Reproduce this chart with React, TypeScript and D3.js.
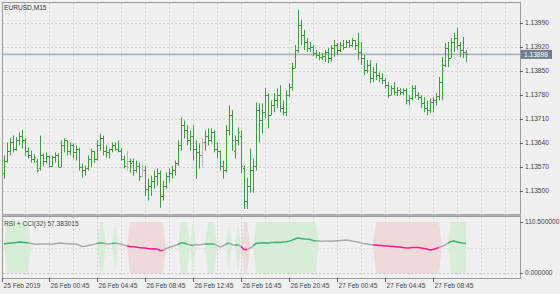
import React from "react";
import * as d3 from "d3";

const symbolTitle = "EURUSD,M15";
const subTitle = "RSI + CCI(32) 57.383015";
const currentPrice = 1.13898;

const highs = [
  1.13603, 1.13641, 1.13653, 1.13661, 1.13656, 1.1367, 1.13676, 1.13653, 1.13626, 1.13617,
  1.13606, 1.13594, 1.13661, 1.13609, 1.13612, 1.13603, 1.13603, 1.13612, 1.13609, 1.13647,
  1.13653, 1.13647, 1.13641, 1.13638, 1.13632, 1.13626, 1.13579, 1.13573, 1.13603, 1.13623,
  1.13617, 1.13647, 1.13667, 1.13661, 1.13632, 1.13623, 1.13641, 1.13641, 1.13647, 1.13623,
  1.13603, 1.13617, 1.13594, 1.13594, 1.13588, 1.13582, 1.13579, 1.13573, 1.13535, 1.13544,
  1.13559, 1.13565, 1.13559, 1.13529, 1.13553, 1.13565, 1.13573, 1.13588, 1.13647, 1.13714,
  1.13705, 1.13691, 1.13676, 1.13691, 1.13647, 1.13638, 1.13653, 1.13676, 1.13682, 1.13682,
  1.13676, 1.13641, 1.13617, 1.13588, 1.13691, 1.13749, 1.13735, 1.13661, 1.13685, 1.13676,
  1.13573, 1.13538, 1.13623, 1.13594, 1.13758, 1.13755, 1.13755, 1.13799, 1.13785, 1.13764,
  1.13785, 1.13799, 1.13808, 1.13764, 1.13793, 1.13814, 1.13873, 1.13925, 1.14028, 1.13999,
  1.1397, 1.13946, 1.13934, 1.13925, 1.13911, 1.13905, 1.13902, 1.13911, 1.13917, 1.13925,
  1.1394, 1.13931, 1.13934, 1.1394, 1.1394, 1.1394, 1.13946, 1.1394, 1.13961, 1.13934,
  1.13896, 1.13881, 1.13881, 1.13861, 1.13873, 1.13846, 1.13843, 1.13829, 1.13817, 1.13808,
  1.13817, 1.13802, 1.13799, 1.13799, 1.13799, 1.13779, 1.13808, 1.13808, 1.13788, 1.13779,
  1.13773, 1.13764, 1.1377, 1.13773, 1.13785, 1.13832, 1.1389, 1.13931, 1.13934, 1.13946,
  1.13961, 1.13975, 1.13934, 1.13949, 1.13911,
];

const lows = [
  1.13535, 1.13582, 1.13603, 1.13612, 1.13617, 1.13632, 1.13623, 1.13603, 1.13594, 1.13582,
  1.13582, 1.13553, 1.13559, 1.13573, 1.13579, 1.13568, 1.1357, 1.13582, 1.13568, 1.13568,
  1.13612, 1.13603, 1.13603, 1.13594, 1.13588, 1.13559, 1.13538, 1.13544, 1.13559, 1.1357,
  1.13582, 1.13588, 1.13617, 1.13603, 1.13597, 1.13594, 1.13612, 1.13617, 1.13612, 1.13588,
  1.13565, 1.13559, 1.13553, 1.13544, 1.13553, 1.13529, 1.13538, 1.13485, 1.13471, 1.13485,
  1.13506, 1.13515, 1.1345, 1.13471, 1.13506, 1.13524, 1.13535, 1.13544, 1.13573, 1.13617,
  1.13653, 1.13632, 1.13617, 1.13588, 1.13535, 1.13565, 1.13568, 1.13617, 1.13632, 1.13641,
  1.13612, 1.13594, 1.13559, 1.13535, 1.13553, 1.13661, 1.13617, 1.13594, 1.13632, 1.1355,
  1.13447, 1.13447, 1.13494, 1.13494, 1.13559, 1.13641, 1.13667, 1.13711, 1.13682, 1.1372,
  1.13729, 1.13741, 1.13729, 1.1372, 1.13717, 1.13773, 1.13793, 1.13858, 1.13902, 1.13925,
  1.13911, 1.13905, 1.13905, 1.13893, 1.13887, 1.13881, 1.13881, 1.13876, 1.13873, 1.13876,
  1.1389, 1.13896, 1.13905, 1.13911, 1.13917, 1.13917, 1.1392, 1.13911, 1.13881, 1.13867,
  1.13837, 1.13843, 1.13814, 1.13817, 1.13823, 1.13817, 1.13811, 1.13799, 1.1377, 1.13779,
  1.13779, 1.13776, 1.13779, 1.13779, 1.13752, 1.13749, 1.13764, 1.1377, 1.13764, 1.13741,
  1.13729, 1.1372, 1.13726, 1.13729, 1.13749, 1.13764, 1.13764, 1.13861, 1.13861, 1.13887,
  1.13905, 1.13911, 1.1389, 1.13887, 1.13876,
];

const opens = [
  1.13553, 1.13588, 1.13617, 1.13641, 1.13623, 1.13647, 1.13661, 1.13647, 1.13617, 1.13603,
  1.13594, 1.13588, 1.13565, 1.13603, 1.13588, 1.136, 1.13573, 1.13597, 1.13603, 1.1357,
  1.13632, 1.13647, 1.13617, 1.13632, 1.13612, 1.13623, 1.1357, 1.13559, 1.13565, 1.13594,
  1.13617, 1.13594, 1.13632, 1.13653, 1.13617, 1.13612, 1.13623, 1.13632, 1.13623, 1.13617,
  1.13594, 1.13573, 1.13588, 1.13588, 1.13559, 1.13573, 1.13544, 1.13559, 1.13506, 1.13515,
  1.13529, 1.13544, 1.13553, 1.13485, 1.13515, 1.13544, 1.13553, 1.13559, 1.13582, 1.13632,
  1.13691, 1.13676, 1.13647, 1.13661, 1.13623, 1.13612, 1.13603, 1.13641, 1.13661, 1.13647,
  1.1367, 1.13623, 1.13617, 1.13573, 1.13559, 1.13676, 1.1372, 1.13617, 1.13647, 1.13661,
  1.13565, 1.13471, 1.13515, 1.13559, 1.13573, 1.13735, 1.13705, 1.13729, 1.13779, 1.1372,
  1.13749, 1.13764, 1.13779, 1.13741, 1.13729, 1.13779, 1.13802, 1.13858, 1.13911, 1.13984,
  1.13955, 1.13934, 1.13917, 1.1392, 1.13902, 1.13896, 1.1389, 1.13893, 1.13905, 1.13887,
  1.13917, 1.13925, 1.13911, 1.13925, 1.1392, 1.13934, 1.13925, 1.1394, 1.13925, 1.13905,
  1.13887, 1.13852, 1.13867, 1.13829, 1.13846, 1.13837, 1.13829, 1.13823, 1.13808, 1.13779,
  1.13799, 1.13788, 1.13793, 1.13788, 1.13793, 1.13764, 1.1377, 1.13799, 1.13779, 1.13773,
  1.13755, 1.13741, 1.13735, 1.13758, 1.13764, 1.13776, 1.13817, 1.13867, 1.13917, 1.13887,
  1.13934, 1.13946, 1.13925, 1.13911, 1.13905,
];

const closes = [
  1.13588, 1.13617, 1.13641, 1.13623, 1.13647, 1.13661, 1.13647, 1.13617, 1.13603, 1.13594,
  1.13597, 1.13559, 1.13603, 1.13588, 1.136, 1.13573, 1.13597, 1.13603, 1.1357, 1.13632,
  1.13647, 1.13617, 1.13632, 1.13612, 1.13623, 1.1357, 1.13559, 1.13565, 1.13594, 1.13617,
  1.13594, 1.13632, 1.13653, 1.13617, 1.13612, 1.13623, 1.13632, 1.13623, 1.13617, 1.13594,
  1.13573, 1.13588, 1.13582, 1.13559, 1.13573, 1.13544, 1.13559, 1.13506, 1.13515, 1.13529,
  1.13544, 1.13553, 1.13485, 1.13515, 1.13544, 1.13553, 1.13559, 1.13582, 1.13632, 1.13691,
  1.13676, 1.13647, 1.13661, 1.13623, 1.13612, 1.13603, 1.13641, 1.13661, 1.13647, 1.1367,
  1.13623, 1.13617, 1.13573, 1.13559, 1.13676, 1.1372, 1.13647, 1.13647, 1.1367, 1.13573,
  1.13471, 1.13515, 1.13559, 1.13573, 1.13735, 1.13705, 1.13729, 1.13779, 1.1372, 1.13749,
  1.13764, 1.13779, 1.13741, 1.13729, 1.13779, 1.13802, 1.13858, 1.13911, 1.13984, 1.13955,
  1.13934, 1.13917, 1.1392, 1.13902, 1.13896, 1.1389, 1.13893, 1.13905, 1.13887, 1.13917,
  1.13925, 1.13911, 1.13925, 1.1392, 1.13934, 1.13925, 1.1394, 1.13925, 1.13905, 1.13887,
  1.13852, 1.13867, 1.13829, 1.13846, 1.13837, 1.13829, 1.13823, 1.13808, 1.13779, 1.13799,
  1.13788, 1.13793, 1.13788, 1.13793, 1.13764, 1.1377, 1.13799, 1.13779, 1.13773, 1.13755,
  1.13741, 1.13735, 1.13758, 1.13764, 1.13776, 1.13817, 1.13867, 1.13917, 1.13887, 1.13934,
  1.13946, 1.13925, 1.13911, 1.13905, 1.13898,
];

const grayBars = [41, 46, 66];

const rsiValues = [
  62.8, 63.9, 65.0, 65.2, 66.1, 67.2, 66.8, 66.0, 65.0, 63.9,
  62.8, 62.5, 63.0, 62.8, 62.6, 62.9, 62.4, 63.5, 64.5, 65.0,
  64.0, 63.8, 63.0, 62.6, 62.8, 60.5, 57.5, 57.8, 59.6, 60.8,
  62.0, 64.0, 65.0, 64.8, 63.5, 62.6, 63.8, 65.0, 63.8, 62.5,
  60.6, 58.5, 57.2, 57.0, 56.3, 55.0, 54.0, 54.2, 53.0, 52.0,
  52.3, 51.8, 48.7, 48.5, 53.2, 55.2, 57.5, 59.5, 61.8, 65.2,
  64.8, 62.9, 60.6, 59.8, 61.6, 61.4, 61.8, 62.6, 63.0, 62.8,
  62.5, 59.8, 56.5, 58.3, 62.8, 65.0, 61.5, 60.5, 60.8, 57.6,
  51.0, 50.8, 54.0, 58.4, 64.0, 65.0, 65.2, 65.5, 64.9, 66.0,
  66.2, 66.5, 65.9, 67.0, 67.5, 69.0, 71.2, 73.5, 75.8, 74.8,
  73.8, 73.4, 72.5, 70.6, 69.4, 69.2, 69.0, 69.1, 69.3, 69.0,
  69.5, 70.0, 70.2, 71.0, 71.5, 70.5, 69.4, 68.0, 67.0, 65.3,
  63.8, 62.8, 61.8, 60.7, 60.5, 59.8, 59.5, 58.6, 58.4, 57.6,
  57.2, 56.4, 56.2, 55.4, 54.3, 54.0, 55.3, 55.5, 55.0, 54.3,
  53.3, 52.0, 50.0, 51.0, 53.2, 55.2, 57.6, 60.6, 65.0, 68.2,
  69.4, 67.3, 66.0, 65.2, 64.6,
];

const greenZones = [[1, 8], [32, 33], [37, 37], [59, 61], [63, 63], [68, 70], [75, 75], [78, 78], [84, 104], [149, 154]];
const pinkZones = [[42, 53], [80, 81], [124, 145]];

const priceTicks = [1.135, 1.1357, 1.1364, 1.1371, 1.1378, 1.1385, 1.1392, 1.1399];
const subTickValues = [110.5, 0];
const subTickLabels = ["110.500000", "0.000000"];

const firstTimeLabel = "25 Feb 2019";
const timeLabels = ["26 Feb 00:45", "26 Feb 04:45", "26 Feb 08:45", "26 Feb 12:45", "26 Feb 16:45", "26 Feb 20:45", "27 Feb 00:45", "27 Feb 04:45", "27 Feb 08:45"];
const timeLabelBars = [15, 31, 47, 63, 79, 95, 111, 127, 143];

const FONT = "'Liberation Sans', Arial, sans-serif";

export default function App() {
  const W = 560, H = 294;
  const plotL = 2, plotR = 520, mainT = 2, mainB = 214, subT = 216, subB = 278;
  const n = highs.length;

  const x = d3.scaleLinear().domain([0, n - 1]).range([4, 4 + 3 * (n - 1)]);
  const y = d3.scaleLinear().domain([1.13432, 1.14048]).range([214, 3]);
  const ys = d3.scaleLinear().domain([0, 110.5]).range([273, 222]);

  const inZone = (zones: number[][], i: number) => zones.some(([a, b]) => i >= a && i <= b);
  const state = (i: number) => (inZone(greenZones, i) ? "g" : inZone(pinkZones, i) ? "p" : "n");

  const areaFor = (zones: number[][]) =>
    d3.area<number>()
      .x((_, i) => x(i))
      .y0((v, i) => (inZone(zones, i) ? ys(0) : ys(v)))
      .y1((v, i) => (inZone(zones, i) ? ys(110.5) : ys(v)))(rsiValues) || "";

  const lineGen = d3.line<[number, number]>().x((d) => x(d[0])).y((d) => ys(d[1]));
  const runs: { s: string; pts: [number, number][] }[] = [];
  for (let i = 1; i < n; i++) {
    const s = state(i);
    const last = runs[runs.length - 1];
    if (last && last.s === s) last.pts.push([i, rsiValues[i]]);
    else runs.push({ s, pts: [[i - 1, rsiValues[i - 1]], [i, rsiValues[i]]] });
  }
  const lineColor: Record<string, string> = { g: "#3cb371", p: "#ff1493", n: "#a9a9a9" };

  const gridBars = d3.range(7, 168, 8);
  const gridXs = gridBars.map((b) => Math.round(x(b)) + 0.5).filter((v) => v < plotR);

  const px = (v: number) => Math.round(v) + 0.5;
  const fmt = d3.format(".5f");
  const cpY = y(currentPrice);

  return (
    <svg width={W} height={H} style={{ position: "absolute", left: 0, top: 0, background: "#f0f0f0" }} fontFamily={FONT}>
      <rect x={0} y={0} width={W} height={H} fill="#f0f0f0" />
      <g stroke="#d0d0d0" strokeDasharray="2,2" strokeWidth={1}>
        {gridXs.map((gx, k) => (
          <line key={"gv" + k} x1={gx} x2={gx} y1={mainT + 1} y2={mainB} />
        ))}
        {priceTicks.map((p, k) => (
          <line key={"gh" + k} x1={plotL + 1} x2={plotR} y1={px(y(p))} y2={px(y(p))} />
        ))}
        {gridXs.map((gx, k) => (
          <line key={"sv" + k} x1={gx} x2={gx} y1={subT + 1} y2={subB} />
        ))}
        <line x1={plotL + 1} x2={plotR} y1={px(ys(0))} y2={px(ys(0))} stroke="#c4c4c4" />
        <line x1={plotL + 1} x2={plotR} y1={248.5} y2={248.5} stroke="#dcdcdc" />
      </g>

      <line x1={plotL} x2={plotR} y1={cpY} y2={cpY} stroke="#aab4be" strokeWidth={1.6} />

      {highs.map((h, i) => {
        const cx = Math.round(x(i));
        const col = grayBars.includes(i) ? "#b8b8b8" : "#3d9c3d";
        const oy = px(y(opens[i]));
        const cy = px(y(closes[i]));
        return (
          <g key={"b" + i} stroke={col} strokeWidth={1}>
            <line x1={cx + 0.5} x2={cx + 0.5} y1={y(h)} y2={y(lows[i])} />
            <line x1={cx - 1} x2={cx} y1={oy} y2={oy} />
            <line x1={cx + 1} x2={cx + 2} y1={cy} y2={cy} />
          </g>
        );
      })}

      <path d={areaFor(greenZones)} fill="#d8edd8" />
      <path d={areaFor(pinkZones)} fill="#eedada" />
      {runs.map((r, k) => (
        <path key={"r" + k} d={lineGen(r.pts) || ""} fill="none" stroke={lineColor[r.s]} strokeWidth={1.5} strokeLinejoin="round" />
      ))}

      <g fill="none" stroke="#9c9c9c" strokeWidth={1}>
        <rect x={plotL + 0.5} y={mainT + 0.5} width={plotR - plotL} height={mainB - mainT} />
        <rect x={plotL + 0.5} y={subT + 0.5} width={plotR - plotL} height={subB - subT} />
      </g>
      <rect x={plotL} y={mainB + 0.5} width={plotR - plotL + 1} height={1.5} fill="#b4b4b4" />

      {priceTicks.map((p, k) => (
        <g key={"pt" + k}>
          <line x1={plotR} x2={plotR + 3} y1={px(y(p))} y2={px(y(p))} stroke="#666" />
          <text x={plotR + 5} y={y(p) + 2.3} fontSize={6.6} fill="#444">{fmt(p)}</text>
        </g>
      ))}
      <rect x={plotR + 1} y={cpY - 4.5} width={31} height={9} fill="#6f7f8f" />
      <text x={plotR + 4} y={cpY + 2.3} fontSize={6.6} fill="#ffffff">{fmt(currentPrice)}</text>

      {subTickValues.map((v, k) => (
        <g key={"st" + k}>
          <line x1={plotR} x2={plotR + 3} y1={px(ys(v))} y2={px(ys(v))} stroke="#666" />
          <text x={plotR + 5} y={ys(v) + 2.3} fontSize={6.6} fill="#444">{subTickLabels[k]}</text>
        </g>
      ))}

      <line x1={plotL + 0.5} x2={plotL + 0.5} y1={subB} y2={subB + 4} stroke="#666" />
      <text x={plotL + 1.5} y={288} fontSize={6.6} fill="#444">{firstTimeLabel}</text>
      {timeLabels.map((t, k) => {
        const tx = Math.round(x(timeLabelBars[k])) + 0.5;
        return (
          <g key={"tl" + k}>
            <line x1={tx} x2={tx} y1={subB} y2={subB + 4} stroke="#666" />
            <text x={tx + 1} y={288} fontSize={6.6} fill="#444">{t}</text>
          </g>
        );
      })}

      <text x={4} y={10} fontSize={6.6} fill="#333">{symbolTitle}</text>
      <text x={4} y={226} fontSize={6.6} fill="#444">{subTitle}</text>
    </svg>
  );
}
